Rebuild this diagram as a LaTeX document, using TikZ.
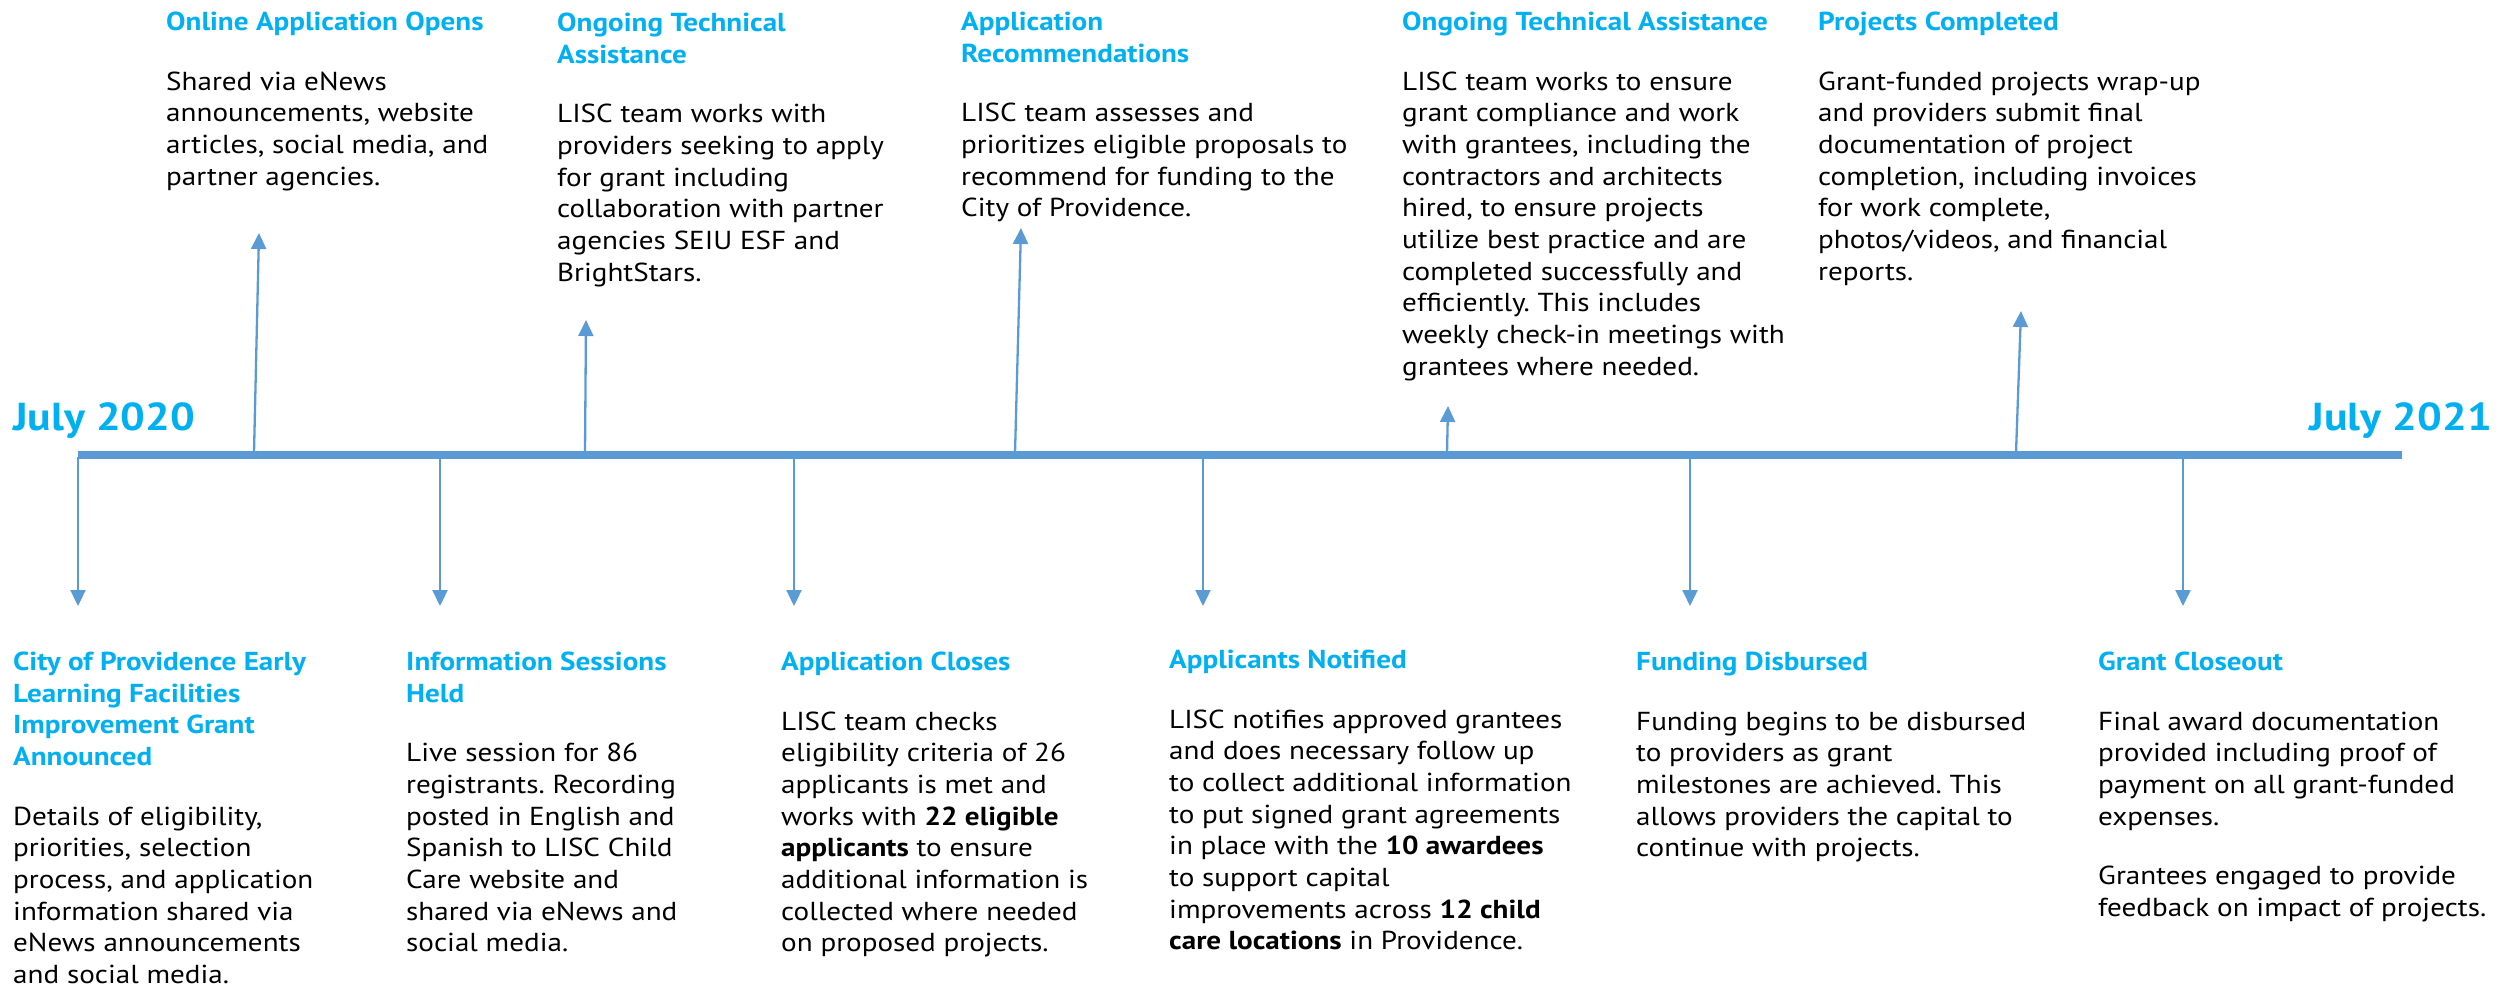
\documentclass[tikz,border=0pt]{standalone}
\usepackage{fontspec}
\setmainfont[FakeStretch=1.12]{PT Sans}
\usetikzlibrary{arrows.meta}
\definecolor{ttl}{HTML}{00B0F0}
\definecolor{lnc}{HTML}{5B9BD5}
\newcommand\hd[1]{{\bfseries\color{ttl}#1}}
\newcommand\bb[1]{{\bfseries #1}}
\frenchspacing
\tikzset{
  blk/.style={anchor=north west, inner sep=0pt, align=left, font=\frenchspacing\fontsize{26}{31.7}\selectfont, text=black},
  arr/.style={draw=lnc, line width=2.3pt, -{Triangle[length=16pt,width=15pt]}},
  barline/.style={draw=lnc, line width=8pt},
  datelbl/.style={font=\bfseries\fontsize{39}{47}\selectfont, text=ttl, inner sep=0pt}
}
\begin{document}
\begin{tikzpicture}[x=1pt,y=-1pt]
\useasboundingbox (0,0) rectangle (2499,984);
% timeline bar
\coordinate (bl) at (78,455);
\coordinate (br) at (2402,455);
\draw[barline] (bl) -- (br);
% date labels
\node[datelbl, anchor=base west] (d2020) at (13,430) {July 2020};
\node[datelbl, anchor=base east] (d2021) at (2492,430) {July 2021};
% down arrows
\foreach \i/\x in {1/78,2/440,3/794,4/1203,5/1690,6/2183}{
  \coordinate (db\i) at (\x,457);
  \coordinate (dt\i) at (\x,606);
  \draw[arr] (db\i) -- (dt\i);
}
% up arrows
\coordinate (ub1) at (254,453); \coordinate (ut1) at (259,233);
\coordinate (ub2) at (585,453); \coordinate (ut2) at (586,320);
\coordinate (ub3) at (1015,453); \coordinate (ut3) at (1021,228);
\coordinate (ub4) at (1447,453); \coordinate (ut4) at (1448,406);
\coordinate (ub5) at (2016,453); \coordinate (ut5) at (2021,311);
\foreach \i in {1,...,5}{\draw[arr] (ub\i) -- (ut\i);}
% bottom blocks
\node[blk] (b1) at (13,648) {\strut\hd{City of Providence Early}\\ \hd{Learning Facilities}\\ \hd{Improvement Grant}\\ \hd{Announced}\\[28pt]
Details of eligibility,\\ priorities, selection\\ process, and application\\ information shared via\\ eNews announcements\\ and social media.};
\node[blk] (b2) at (406,648) {\strut\hd{Information Sessions}\\ \hd{Held}\\[28pt]
Live session for 86\\ registrants. Recording\\ posted in English and\\ Spanish to LISC Child\\ Care website and\\ shared via eNews and\\ social media.};
\node[blk] (b3) at (781,648) {\strut\hd{Application Closes}\\[28pt]
LISC team checks\\ eligibility criteria of 26\\ applicants is met and\\ works with \bb{22 eligible}\\ \bb{applicants} to ensure\\ additional information is\\ collected where needed\\ on proposed projects.};
\node[blk] (b4) at (1169,646) {\strut\hd{Applicants Notified}\\[28pt]
LISC notifies approved grantees\\ and does necessary follow up\\ to collect additional information\\ to put signed grant agreements\\ in place with the \bb{10 awardees}\\ to support capital\\ improvements across \bb{12 child}\\ \bb{care locations} in Providence.};
\node[blk] (b5) at (1636,648) {\strut\hd{Funding Disbursed}\\[28pt]
Funding begins to be disbursed\\ to providers as grant\\ milestones are achieved. This\\ allows providers the capital to\\ continue with projects.};
\node[blk] (b6) at (2098,648) {\strut\hd{Grant Closeout}\\[28pt]
Final award documentation\\ provided including proof of\\ payment on all grant-funded\\ expenses.\\[28pt]
Grantees engaged to provide\\ feedback on impact of projects.};
% top blocks
\node[blk] (t1) at (166,8) {\strut\hd{Online Application Opens}\\[28pt]
Shared via eNews\\ announcements, website\\ articles, social media, and\\ partner agencies.};
\node[blk] (t2) at (557,9) {\strut\hd{Ongoing Technical}\\ \hd{Assistance}\\[28pt]
LISC team works with\\ providers seeking to apply\\ for grant including\\ collaboration with partner\\ agencies SEIU ESF and\\ BrightStars.};
\node[blk] (t3) at (961,8) {\strut\hd{Application}\\ \hd{Recommendations}\\[28pt]
LISC team assesses and\\ prioritizes eligible proposals to\\ recommend for funding to the\\ City of Providence.};
\node[blk] (t4) at (1402,8) {\strut\hd{Ongoing Technical Assistance}\\[28pt]
LISC team works to ensure\\ grant compliance and work\\ with grantees, including the\\ contractors and architects\\ hired, to ensure projects\\ utilize best practice and are\\ completed successfully and\\ efficiently. This includes\\ weekly check-in meetings with\\ grantees where needed.};
\node[blk] (t5) at (1818,8) {\strut\hd{Projects Completed}\\[28pt]
Grant-funded projects wrap-up\\ and providers submit final\\ documentation of project\\ completion, including invoices\\ for work complete,\\ photos/videos, and financial\\ reports.};
\end{tikzpicture}
\end{document}
